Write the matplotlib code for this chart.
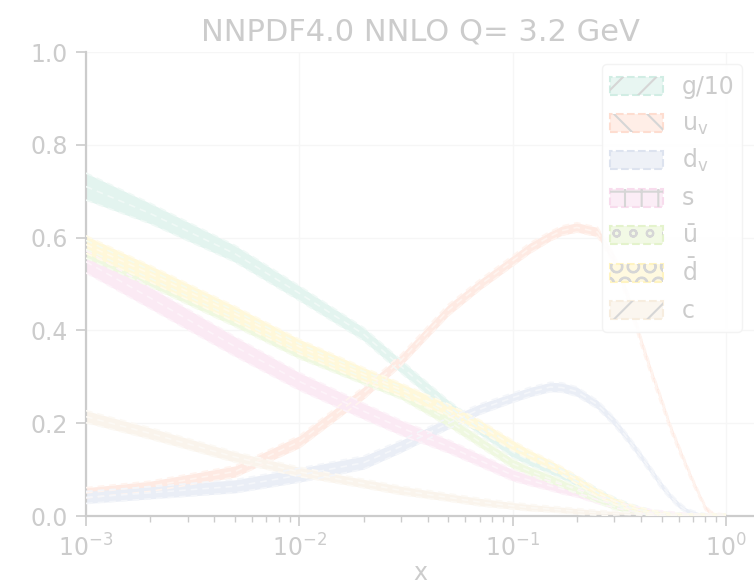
import numpy as np
import matplotlib.pyplot as plt
from matplotlib.colors import to_rgb
from matplotlib.patches import Patch, Rectangle
from matplotlib.legend_handler import HandlerPatch

# x grid the values were read at
x = [1e-3, 2e-3, 5e-3, 1e-2, 2e-2, 3e-2, 5e-2, 0.07, 0.1, 0.12,
     0.15, 0.17, 0.2, 0.25, 0.3, 0.35, 0.4, 0.45, 0.5, 0.55,
     0.6, 0.65, 0.7, 0.75, 0.8, 0.85, 0.9, 1.0]

g10 = [0.71, 0.652, 0.565, 0.48, 0.392, 0.322, 0.236, 0.188, 0.138, 0.12,
       0.102, 0.09, 0.075, 0.05, 0.032, 0.02, 0.012, 0.007, 0.004, 0.002,
       0.001, 0.0, 0.0, 0.0, 0.0, 0.0, 0.0, 0.0]
g10_err = [0.025, 0.018, 0.014, 0.012, 0.01, 0.01, 0.009, 0.008, 0.008, 0.007,
           0.007, 0.006, 0.006, 0.005, 0.004, 0.003, 0.003, 0.002, 0.002, 0.001,
           0.001, 0.0, 0.0, 0.0, 0.0, 0.0, 0.0, 0.0]

uv = [0.05, 0.064, 0.096, 0.16, 0.265, 0.336, 0.444, 0.498, 0.55, 0.577,
      0.603, 0.615, 0.622, 0.612, 0.552, 0.466, 0.376, 0.305, 0.246, 0.19,
      0.147, 0.109, 0.074, 0.045, 0.018, 0.006, 0.002, 0.0]
uv_err = [0.007, 0.007, 0.008, 0.009, 0.009, 0.008, 0.008, 0.007, 0.007, 0.007,
          0.006, 0.006, 0.006, 0.006, 0.006, 0.005, 0.005, 0.004, 0.004, 0.003,
          0.003, 0.002, 0.002, 0.001, 0.001, 0.0, 0.0, 0.0]

dv = [0.04, 0.05, 0.064, 0.088, 0.115, 0.15, 0.2, 0.23, 0.255, 0.267,
      0.278, 0.277, 0.268, 0.24, 0.203, 0.164, 0.128, 0.095, 0.065, 0.042,
      0.024, 0.012, 0.006, 0.003, 0.001, 0.0, 0.0, 0.0]
dv_err = [0.009, 0.009, 0.01, 0.011, 0.01, 0.009, 0.008, 0.007, 0.006, 0.006,
          0.006, 0.006, 0.006, 0.005, 0.005, 0.004, 0.004, 0.003, 0.003, 0.002,
          0.002, 0.001, 0.001, 0.0, 0.0, 0.0, 0.0, 0.0]

s = [0.548, 0.47, 0.365, 0.29, 0.226, 0.19, 0.15, 0.12, 0.088, 0.077,
     0.065, 0.058, 0.05, 0.035, 0.025, 0.017, 0.012, 0.008, 0.006, 0.004,
     0.003, 0.002, 0.001, 0.0, 0.0, 0.0, 0.0, 0.0]
s_err = [0.02, 0.019, 0.017, 0.015, 0.013, 0.012, 0.01, 0.009, 0.008, 0.007,
         0.006, 0.006, 0.005, 0.004, 0.003, 0.002, 0.002, 0.001, 0.001, 0.001,
         0.0, 0.0, 0.0, 0.0, 0.0, 0.0, 0.0, 0.0]

ubar = [0.575, 0.512, 0.425, 0.355, 0.298, 0.265, 0.205, 0.16, 0.113, 0.097,
        0.08, 0.07, 0.056, 0.035, 0.02, 0.013, 0.008, 0.005, 0.003, 0.002,
        0.001, 0.0, 0.0, 0.0, 0.0, 0.0, 0.0, 0.0]
ubar_err = [0.015, 0.014, 0.013, 0.012, 0.01, 0.009, 0.008, 0.007, 0.006, 0.005,
            0.005, 0.004, 0.004, 0.003, 0.002, 0.002, 0.001, 0.001, 0.001, 0.0,
            0.0, 0.0, 0.0, 0.0, 0.0, 0.0, 0.0, 0.0]

dbar = [0.585, 0.522, 0.435, 0.365, 0.305, 0.272, 0.228, 0.195, 0.152, 0.132,
        0.11, 0.097, 0.078, 0.05, 0.032, 0.02, 0.012, 0.007, 0.004, 0.002,
        0.001, 0.0, 0.0, 0.0, 0.0, 0.0, 0.0, 0.0]
dbar_err = [0.015, 0.014, 0.013, 0.012, 0.011, 0.01, 0.009, 0.008, 0.007, 0.006,
            0.006, 0.005, 0.005, 0.004, 0.003, 0.002, 0.002, 0.001, 0.001, 0.0,
            0.0, 0.0, 0.0, 0.0, 0.0, 0.0, 0.0, 0.0]

c = [0.214, 0.178, 0.127, 0.095, 0.07, 0.055, 0.04, 0.03, 0.022, 0.018,
     0.015, 0.013, 0.01, 0.007, 0.005, 0.003, 0.002, 0.001, 0.001, 0.0,
     0.0, 0.0, 0.0, 0.0, 0.0, 0.0, 0.0, 0.0]
c_err = [0.009, 0.008, 0.007, 0.006, 0.005, 0.005, 0.004, 0.004, 0.003, 0.003,
         0.002, 0.002, 0.002, 0.001, 0.001, 0.001, 0.0, 0.0, 0.0, 0.0,
         0.0, 0.0, 0.0, 0.0, 0.0, 0.0, 0.0, 0.0]

labels = ['g/10', r'$u_v$', r'$d_v$', 's', r'$\bar{u}$', r'$\bar{d}$', 'c']
colors = ['#66c2a5', '#fc8d62', '#8da0cb', '#e78ac3', '#a6d854', '#ffd92f', '#e5c494']
hatches = ['/', '\\', '', '+', 'o', 'O', '/']
series = [(g10, g10_err), (uv, uv_err), (dv, dv_err), (s, s_err),
          (ubar, ubar_err), (dbar, dbar_err), (c, c_err)]


def fade(col, a=0.2):
    # everything in the picture is washed out towards white
    return tuple(1 - a * (1 - v) for v in to_rgb(col))


def small_box(legend, orig_handle, xdescent, ydescent, width, height, fontsize):
    # keep the swatch short while the row itself stays tall, so rows are even
    hh = 13.0
    return Rectangle((-xdescent, -ydescent + (height - hh) / 2), width, hh)


txt = fade('black')
plt.rcParams.update({
    'font.size': 17,
    'text.color': txt,
    'axes.labelcolor': txt,
    'xtick.color': txt,
    'ytick.color': txt,
    'axes.edgecolor': txt,
    'hatch.linewidth': 1.5,
    'mathtext.default': 'regular',
})

fig = plt.figure(figsize=(7.54, 5.86), dpi=100)
ax = fig.add_axes([86 / 754, 70 / 586, 668 / 754, 464 / 586])

xs = np.array(x)
for (cv, ev), col in zip(series, colors):
    cv = np.array(cv)
    ev = np.array(ev)
    lo, hi = cv - ev - 0.004, cv + ev + 0.004
    ax.fill_between(xs, lo, hi, color=fade(col, 0.18), lw=0, zorder=2)
    for yy in (lo, hi, cv):
        ax.plot(xs, yy, ls=(0, (4, 3)), color=fade(col, 0.1), lw=1.2, zorder=3)

ax.set_xscale('log')
ax.set_xlim(1e-3, 10 ** (28 / 213.3))
ax.set_ylim(0, 1)
ax.set_yticks([0.0, 0.2, 0.4, 0.6, 0.8, 1.0])
ax.grid(True, which='major', color='#f6f6f6', lw=1)
ax.set_axisbelow(True)
for side in ('top', 'right'):
    ax.spines[side].set_visible(False)
ax.spines['left'].set_linewidth(1.6)
ax.spines['bottom'].set_linewidth(1.6)
ax.tick_params(which='major', length=7, width=1.2, pad=6)
ax.tick_params(which='minor', length=4, width=1.0)

ax.set_title('NNPDF4.0 NNLO Q= 3.2 GeV', fontsize=22, pad=8)
ax.set_xlabel('x', fontsize=17, labelpad=0)

handles = []
for col, h in zip(colors, hatches):
    base = Patch(facecolor=fade(col, 0.15), edgecolor=fade(col, 0.3), ls='--', lw=1.5)
    hatch = Patch(facecolor='none', edgecolor=fade('#333333', 0.2), hatch=h, lw=0)
    handles.append((base, hatch))
leg = ax.legend(handles, labels, loc='upper right', handlelength=2.25, handleheight=1.5,
                labelspacing=0.36, borderpad=0.32, fancybox=True,
                handler_map={Patch: HandlerPatch(patch_func=small_box)},
                edgecolor=fade('#cccccc', 0.25), framealpha=0.9)

fig.savefig('out.png', dpi=100)
